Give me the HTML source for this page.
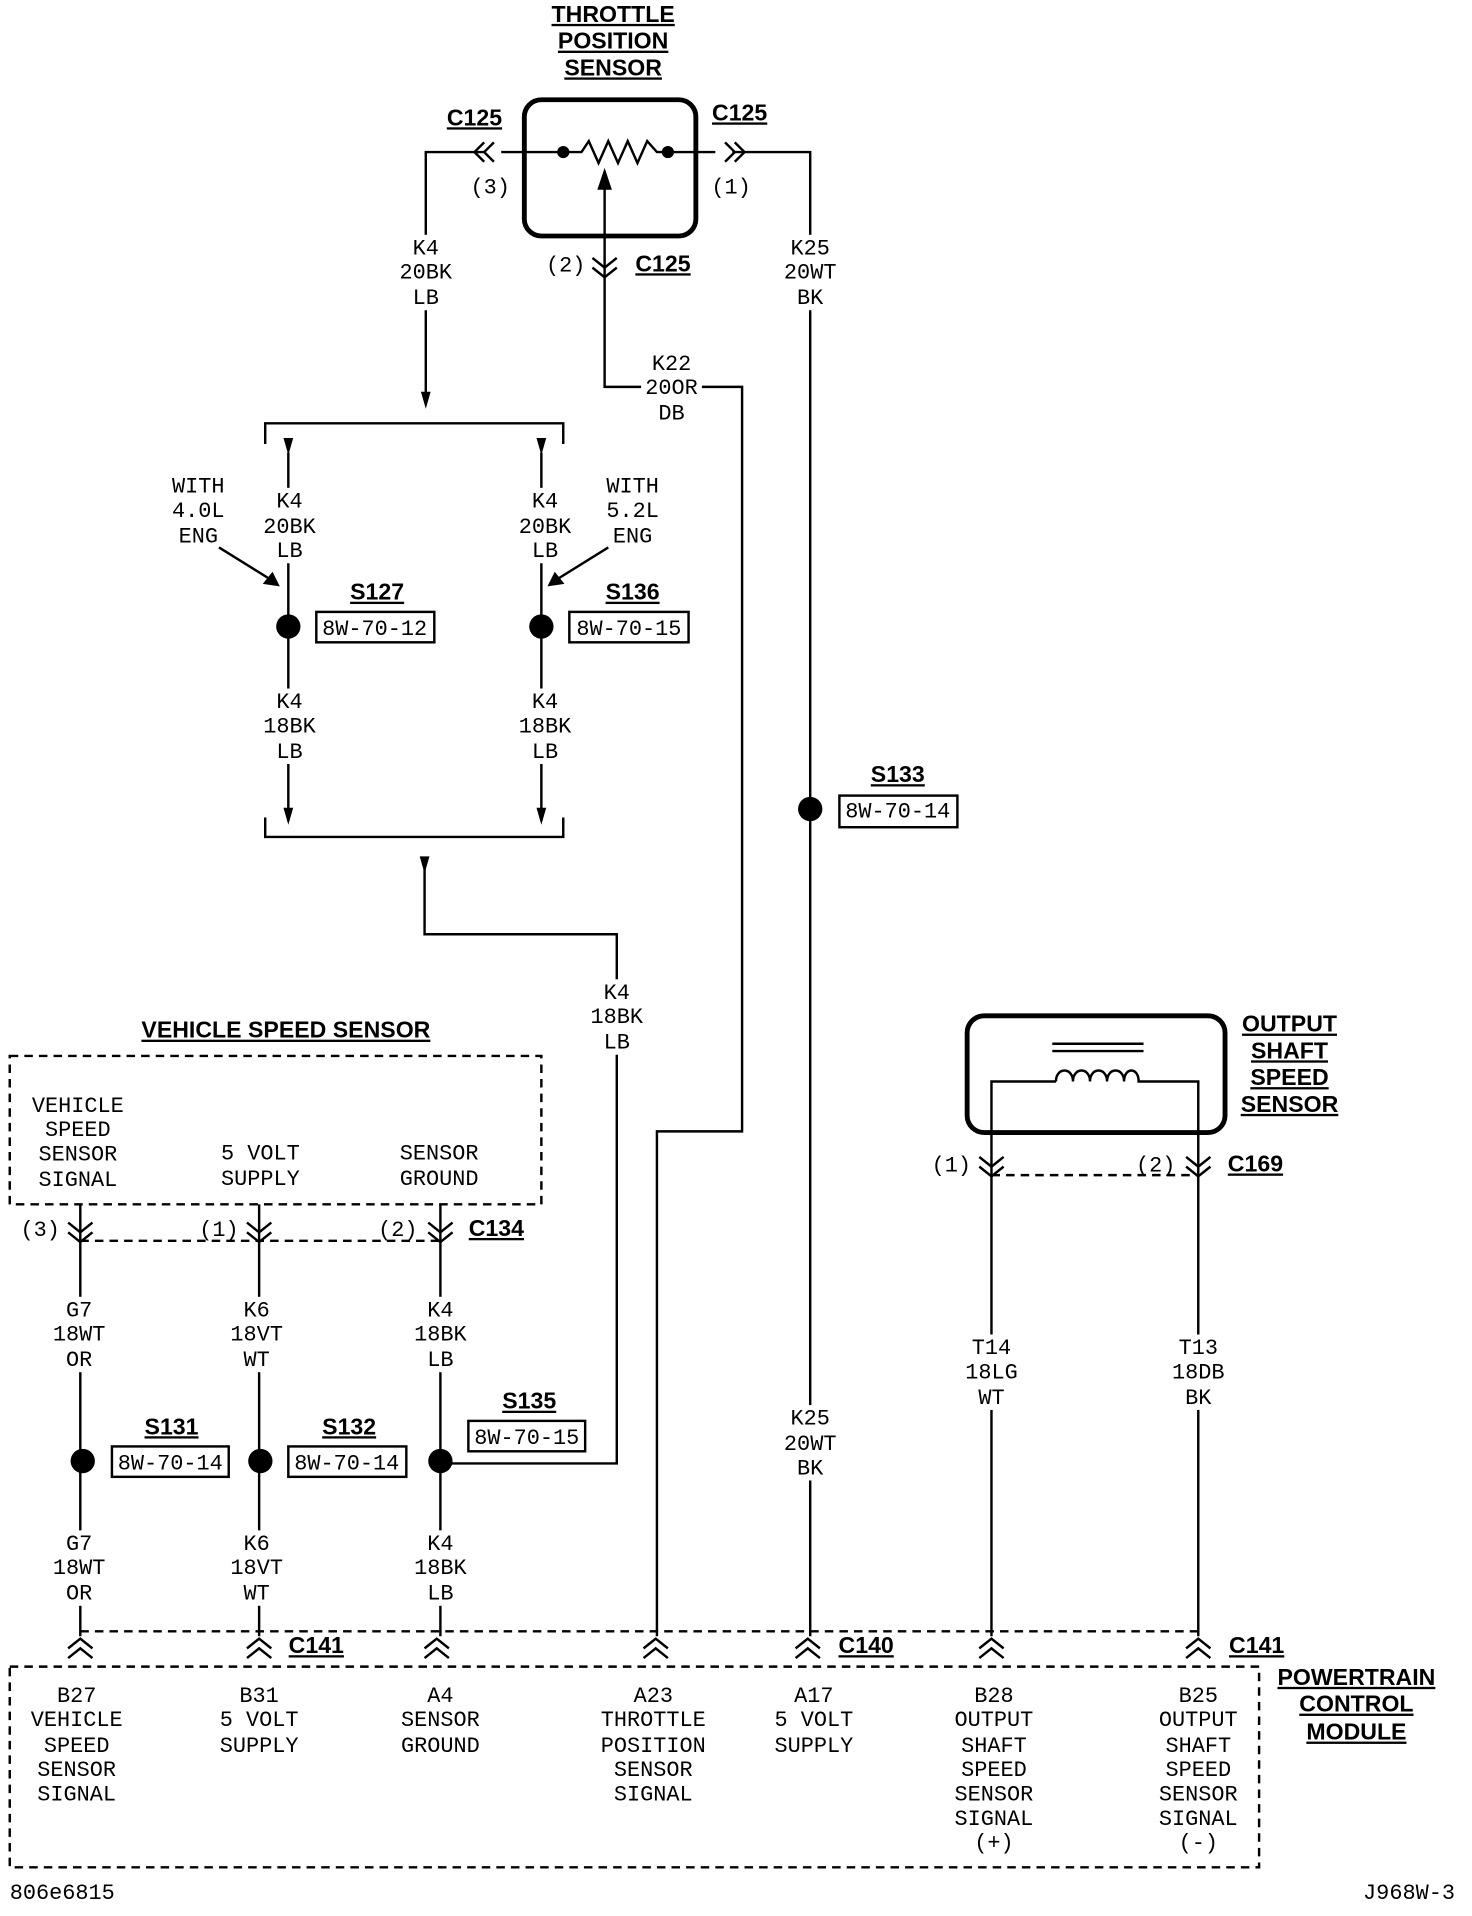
<!DOCTYPE html>
<html><head><meta charset="utf-8"><style>
html,body{margin:0;padding:0;background:#fff;}
svg{display:block}
text{font-family:"Liberation Mono",monospace;font-size:18px;fill:#000;text-anchor:middle}
.b{font-family:"Liberation Sans",sans-serif;font-weight:bold;font-size:19px;text-decoration:underline}
.l{text-anchor:start}
.r{text-anchor:end}
</style></head><body>
<svg width="1472" height="1916" viewBox="0 0 1210 1575" xmlns="http://www.w3.org/2000/svg">
<defs>
<g id="cd"><path d="M-10,-10 L0,-2 L10,-10 M-10,-2 L0,6 L10,-2" fill="none" stroke="#000" stroke-width="2"/></g>
<g id="cu"><path d="M-10,10 L0,2 L10,10 M-10,2 L0,-6 L10,2" fill="none" stroke="#000" stroke-width="2"/></g>
<g id="ad"><path d="M-4,-8 L4,-8 L0,6 Z" fill="#000"/></g>
<rect id="lb" x="-25" y="-16" width="50" height="62" fill="#fff"/>
</defs>
<g stroke="#000" stroke-width="2" fill="none">
<rect x="431" y="82" width="141" height="112" rx="14" stroke-width="4"/>
<path d="M350,330 V125 H398 M412,125 H478 L484,116 L492,134 L500,116 L508,134 L516,116 L524,134 L532,116 L540,125 H588 M602,125 H666 V1345"/>
<path d="M398,117 L390,125 L398,133 M406,117 L398,125 L406,133"/>
<path d="M596,117 L604,125 L596,133 M604,117 L612,125 L604,133"/>
<path d="M497,150 V318 H610 V930 H540 V1345"/>
<path d="M218,365 V348 H463 V365 M237,372 V675 M445,372 V675"/>
<path d="M218,672 V688 H463 V672"/>
<path d="M349,705 V768 H507 V1203 H362"/>
<path d="M180,450 L225,478 M500,450 L455,478"/>
<rect x="8" y="868" width="437" height="122" stroke-dasharray="7,5"/>
<path d="M66,990 V1345 M213,990 V1345 M362,990 V1345"/>
<path d="M66,1020 H362 M815,966 H985 M66,1341 H985" stroke-dasharray="7,5"/>
<rect x="795" y="835" width="212" height="96" rx="14" stroke-width="4"/>
<path d="M865,858 H940 M865,864 H940"/>
<path d="M815,1345 V889 H868 M935,889 H985 V1345"/>
<path d="M868,889 c0,-12 14,-12 14,0 c0,-12 14,-12 14,0 c0,-12 14,-12 14,0 c0,-12 14,-12 14,0 c0,-12 12,-12 12,0"/>
<rect x="8" y="1370" width="1027" height="165" stroke-dasharray="7,5"/>
<rect x="260" y="503" width="97" height="25"/>
<rect x="468" y="503" width="98" height="25"/>
<rect x="690" y="654" width="97" height="26"/>
<rect x="92" y="1189" width="96" height="25"/>
<rect x="237" y="1189" width="97" height="25"/>
<rect x="385" y="1168" width="96" height="25"/>
</g>
<!-- label backgrounds -->
<use href="#lb" x="350" y="209"/><use href="#lb" x="666" y="209"/><use href="#lb" x="552" y="304"/>
<use href="#lb" x="238" y="417"/><use href="#lb" x="448" y="417"/><use href="#lb" x="238" y="582"/><use href="#lb" x="448" y="582"/>
<use href="#lb" x="507" y="821"/>
<use href="#lb" x="65" y="1082"/><use href="#lb" x="211" y="1082"/><use href="#lb" x="362" y="1082"/>
<use href="#lb" x="815" y="1113"/><use href="#lb" x="985" y="1113"/><use href="#lb" x="666" y="1171"/>
<use href="#lb" x="65" y="1274"/><use href="#lb" x="211" y="1274"/><use href="#lb" x="362" y="1274"/>
<g fill="#000">
<circle cx="463" cy="125" r="5"/><circle cx="549" cy="125" r="5"/>
<path d="M497,138 L491,156 L503,156 Z"/>
<path d="M230,482 L216,480 L224,470 Z"/><path d="M450,482 L456,470 L464,480 Z"/>
<circle cx="237" cy="515" r="10"/><circle cx="445" cy="515" r="10"/>
<circle cx="666" cy="665" r="10"/>
<circle cx="68" cy="1201" r="10"/><circle cx="214" cy="1201" r="10"/><circle cx="362" cy="1201" r="10"/>
</g>
<use href="#ad" x="350" y="330"/><use href="#ad" x="237" y="368"/><use href="#ad" x="445" y="368"/>
<use href="#ad" x="237" y="672"/><use href="#ad" x="445" y="672"/><use href="#ad" x="349" y="712"/>
<use href="#cd" x="497" y="222"/>
<use href="#cd" x="66" y="1015"/><use href="#cd" x="213" y="1015"/><use href="#cd" x="362" y="1015"/>
<use href="#cd" x="815" y="961"/><use href="#cd" x="985" y="961"/>
<use href="#cu" x="66" y="1353"/><use href="#cu" x="213" y="1353"/><use href="#cu" x="359" y="1353"/><use href="#cu" x="539" y="1353"/><use href="#cu" x="664" y="1353"/><use href="#cu" x="815" y="1353"/><use href="#cu" x="985" y="1353"/>
<text class="b" x="504" y="18">THROTTLE</text><text class="b" x="504" y="40">POSITION</text><text class="b" x="504" y="62">SENSOR</text>
<text class="b" x="390" y="103">C125</text><text class="b" x="608" y="99">C125</text><text class="b" x="545" y="223">C125</text>
<text x="403" y="159">(3)</text><text x="601" y="159">(1)</text><text x="465" y="223">(2)</text>
<text x="350" y="209">K4</text><text x="350" y="229">20BK</text><text x="350" y="250">LB</text>
<text x="666" y="209">K25</text><text x="666" y="229">20WT</text><text x="666" y="250">BK</text>
<text x="552" y="304">K22</text><text x="552" y="324">20OR</text><text x="552" y="345">DB</text>
<text x="163" y="405">WITH</text><text x="163" y="425">4.0L</text><text x="163" y="446">ENG</text>
<text x="520" y="405">WITH</text><text x="520" y="425">5.2L</text><text x="520" y="446">ENG</text>
<text x="238" y="417">K4</text><text x="238" y="438">20BK</text><text x="238" y="458">LB</text>
<text x="448" y="417">K4</text><text x="448" y="438">20BK</text><text x="448" y="458">LB</text>
<text class="b" x="310" y="493">S127</text><text class="b" x="520" y="493">S136</text>
<text x="308" y="522">8W-70-12</text><text x="517" y="522">8W-70-15</text>
<text x="238" y="582">K4</text><text x="238" y="602">18BK</text><text x="238" y="623">LB</text>
<text x="448" y="582">K4</text><text x="448" y="602">18BK</text><text x="448" y="623">LB</text>
<text class="b" x="738" y="643">S133</text><text x="738" y="672">8W-70-14</text>
<text x="507" y="821">K4</text><text x="507" y="841">18BK</text><text x="507" y="862">LB</text>
<text class="b" x="235" y="853">VEHICLE  SPEED  SENSOR</text>
<text x="64" y="914">VEHICLE</text><text x="64" y="934">SPEED</text><text x="64" y="954">SENSOR</text><text x="64" y="975">SIGNAL</text>
<text x="214" y="953">5 VOLT</text><text x="214" y="974">SUPPLY</text>
<text x="361" y="953">SENSOR</text><text x="361" y="974">GROUND</text>
<text x="33" y="1016">(3)</text><text x="180" y="1016">(1)</text><text x="327" y="1016">(2)</text><text class="b" x="408" y="1016">C134</text>
<text class="b" x="1060" y="848">OUTPUT</text><text class="b" x="1060" y="870">SHAFT</text><text class="b" x="1060" y="892">SPEED</text><text class="b" x="1060" y="914">SENSOR</text>
<text x="782" y="963">(1)</text><text x="950" y="963">(2)</text><text class="b" x="1032" y="963">C169</text>
<text x="65" y="1082">G7</text><text x="65" y="1102">18WT</text><text x="65" y="1123">OR</text>
<text x="211" y="1082">K6</text><text x="211" y="1102">18VT</text><text x="211" y="1123">WT</text>
<text x="362" y="1082">K4</text><text x="362" y="1102">18BK</text><text x="362" y="1123">LB</text>
<text x="815" y="1113">T14</text><text x="815" y="1133">18LG</text><text x="815" y="1154">WT</text>
<text x="985" y="1113">T13</text><text x="985" y="1133">18DB</text><text x="985" y="1154">BK</text>
<text x="666" y="1171">K25</text><text x="666" y="1192">20WT</text><text x="666" y="1212">BK</text>
<text class="b" x="141" y="1179">S131</text><text class="b" x="287" y="1179">S132</text><text class="b" x="435" y="1158">S135</text>
<text x="140" y="1208">8W-70-14</text><text x="285" y="1208">8W-70-14</text><text x="433" y="1187">8W-70-15</text>
<text x="65" y="1274">G7</text><text x="65" y="1294">18WT</text><text x="65" y="1315">OR</text>
<text x="211" y="1274">K6</text><text x="211" y="1294">18VT</text><text x="211" y="1315">WT</text>
<text x="362" y="1274">K4</text><text x="362" y="1294">18BK</text><text x="362" y="1315">LB</text>
<text class="b" x="260" y="1359">C141</text><text class="b" x="712" y="1359">C140</text><text class="b" x="1033" y="1359">C141</text>
<text class="b" x="1115" y="1385">POWERTRAIN</text><text class="b" x="1115" y="1407">CONTROL</text><text class="b" x="1115" y="1430">MODULE</text>
<g>
<text x="63" y="1399">B27</text><text x="63" y="1419">VEHICLE</text><text x="63" y="1440">SPEED</text><text x="63" y="1460">SENSOR</text><text x="63" y="1480">SIGNAL</text>
<text x="213" y="1399">B31</text><text x="213" y="1419">5 VOLT</text><text x="213" y="1440">SUPPLY</text>
<text x="362" y="1399">A4</text><text x="362" y="1419">SENSOR</text><text x="362" y="1440">GROUND</text>
<text x="537" y="1399">A23</text><text x="537" y="1419">THROTTLE</text><text x="537" y="1440">POSITION</text><text x="537" y="1460">SENSOR</text><text x="537" y="1480">SIGNAL</text>
<text x="669" y="1399">A17</text><text x="669" y="1419">5 VOLT</text><text x="669" y="1440">SUPPLY</text>
<text x="817" y="1399">B28</text><text x="817" y="1419">OUTPUT</text><text x="817" y="1440">SHAFT</text><text x="817" y="1460">SPEED</text><text x="817" y="1480">SENSOR</text><text x="817" y="1500">SIGNAL</text><text x="817" y="1520">(+)</text>
<text x="985" y="1399">B25</text><text x="985" y="1419">OUTPUT</text><text x="985" y="1440">SHAFT</text><text x="985" y="1460">SPEED</text><text x="985" y="1480">SENSOR</text><text x="985" y="1500">SIGNAL</text><text x="985" y="1520">(-)</text>
</g>
<text class="l" x="8" y="1561">806e6815</text>
<text class="r" x="1196" y="1561">J968W-3</text>
</svg>
</body></html>
